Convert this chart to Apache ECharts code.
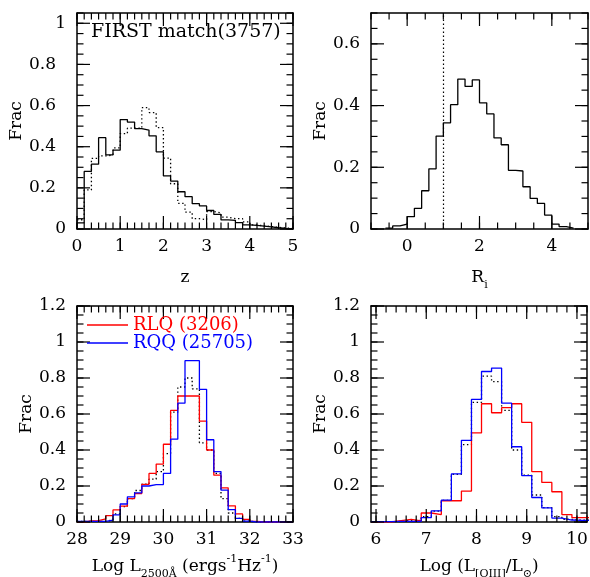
<!DOCTYPE html>
<html>
<head>
<meta charset="utf-8">
<script src="https://cdn.jsdelivr.net/npm/echarts@6/dist/echarts.min.js"></script>
<style>
html, body { margin: 0; padding: 0; background: #fff; }
#main { width: 590px; height: 577px; }
</style>
</head>
<body>
<div id="main"></div>
<script>
// redshift histogram (bins of 1/6 starting at z=0)
var zBinStart = 0, zBinWidth = 1 / 6;
var zFirst = [0.03, 0.28, 0.315, 0.444, 0.36, 0.383, 0.532, 0.52, 0.488, 0.481,
              0.453, 0.375, 0.258, 0.233, 0.181, 0.157, 0.123, 0.112, 0.09, 0.071,
              0.044, 0.042, 0.031, 0.02, 0.018, 0.014, 0.01, 0.006, 0.003, 0.002];
var zAll = [0.045, 0.19, 0.343, 0.355, 0.36, 0.394, 0.464, 0.49, 0.49, 0.59,
            0.566, 0.493, 0.345, 0.22, 0.125, 0.082, 0.05, 0.045, 0.085, 0.078,
            0.058, 0.05, 0.05, 0.035, 0.02, 0.015, 0.012, 0.008, 0.005, 0.003];

// radio loudness R_i (bins of 0.2 starting at -0.6)
var riBinStart = -0.6, riBinWidth = 0.2;
var riFrac = [0.003, 0.01, 0.016, 0.04, 0.067, 0.124, 0.195, 0.301, 0.344, 0.403,
              0.486, 0.462, 0.483, 0.409, 0.373, 0.295, 0.273, 0.19, 0.188, 0.137,
              0.099, 0.083, 0.045, 0.016, 0.008, 0.003];
var riCut = 1;

// log L2500 (bins of 1/6 starting at 28)
var lumBinStart = 28, lumBinWidth = 1 / 6;
var lumRLQ = [0, 0.006, 0.008, 0.018, 0.035, 0.067, 0.088, 0.13, 0.158, 0.209,
              0.27, 0.322, 0.432, 0.62, 0.70, 0.70, 0.70, 0.56, 0.40, 0.26,
              0.19, 0.09, 0.045, 0.015, 0.003, 0, 0, 0, 0, 0];
var lumRQQ = [0.003, 0.003, 0.003, 0.003, 0.01, 0.04, 0.1, 0.14, 0.162, 0.2,
              0.208, 0.208, 0.27, 0.46, 0.66, 0.896, 0.896, 0.737, 0.457, 0.28,
              0.177, 0.069, 0.02, 0.005, 0, 0, 0, 0, 0, 0];
var lumAll = [0.003, 0.003, 0.003, 0.003, 0.012, 0.045, 0.085, 0.13, 0.175, 0.21,
              0.238, 0.28, 0.38, 0.61, 0.75, 0.80, 0.74, 0.44, 0.40, 0.27,
              0.13, 0.05, 0.02, 0.005, 0, 0, 0, 0, 0, 0];

// log L[OIII] (bins of 0.2 starting at 5.9)
var o3BinStart = 5.9, o3BinWidth = 0.2;
var o3RLQ = [0, 0, 0.008, 0.015, 0.006, 0.05, 0.041, 0.118, 0.118, 0.172,
             0.495, 0.657, 0.607, 0.635, 0.657, 0.554, 0.28, 0.22, 0.168, 0.041,
             0.024, 0.024];
var o3RQQ = [0.002, 0.002, 0.003, 0.004, 0.004, 0.024, 0.062, 0.121, 0.267, 0.454,
             0.681, 0.836, 0.855, 0.66, 0.418, 0.258, 0.136, 0.078, 0.022, 0.011,
             0.009, 0.009];
var o3All = [0.002, 0.002, 0.003, 0.01, 0.008, 0.03, 0.06, 0.12, 0.265, 0.43,
             0.665, 0.81, 0.78, 0.62, 0.40, 0.26, 0.15, 0.08, 0.03, 0.015,
             0.01, 0.01];

// tick labels
var zTicks = [0, 1, 2, 3, 4, 5];
var riTicks = [0, 2, 4];
var lumTicks = [28, 29, 30, 31, 32, 33];
var o3Ticks = [6, 7, 8, 9, 10];
var fracTicksA = [0, 0.2, 0.4, 0.6, 0.8, 1];
var fracTicksB = [0, 0.2, 0.4, 0.6];
var fracTicksC = [0, 0.2, 0.4, 0.6, 0.8, 1, 1.2];

var FONT = 'DejaVu Serif, DejaVu Sans, serif';
var RED = '#ff0000', BLUE = '#0000ff';

function hist(start, width, values) {
    var pts = values.map(function (v, k) { return [start + k * width, v]; });
    pts.push([start + values.length * width, values[values.length - 1]]);
    return pts;
}

// every multiple of step inside range
function multiples(range, step) {
    var out = [];
    var k0 = Math.ceil(range[0] / step - 1e-6), k1 = Math.floor(range[1] / step + 1e-6);
    for (var k = k0; k <= k1; k++) out.push(+(k * step).toFixed(6));
    return out;
}

var panels = [
    { rect: [77, 13, 216, 216], x: [0, 5], y: [0, 1.05], xLabels: zTicks, xMajor: 1, xMinor: 1 / 6,
      yLabels: fracTicksA, xName: 'z', xGap: 36, padDecimals: true },
    { rect: [371, 13, 217, 216], x: [-1, 5], y: [0, 0.7], xLabels: riTicks, xMajor: 2, xMinor: 0.5,
      yLabels: fracTicksB, xName: 'R{sub|i}', xGap: 36 },
    { rect: [77, 306, 216, 216], x: [28, 33], y: [0, 1.2], xLabels: lumTicks, xMajor: 1, xMinor: 1 / 6,
      yLabels: fracTicksC, xName: 'Log L{sub|2500Å} (ergs{sup|-1}Hz{sup|-1})', xGap: 32 },
    { rect: [371, 306, 216, 216], x: [5.9, 10.2], y: [0, 1.2], xLabels: o3Ticks, xMajor: 1, xMinor: 0.2,
      yLabels: fracTicksC, xName: 'Log (L{sub|[OIII]}/L{sub|⊙})', xGap: 32 }
];

var frameLine = { color: '#000', width: 1.5 };
var labelStyle = { color: '#000', fontFamily: FONT, fontSize: 17 };
var nameRich = {
    sub: { fontFamily: FONT, fontSize: 11, color: '#000', verticalAlign: 'bottom', lineHeight: 11 },
    sup: { fontFamily: FONT, fontSize: 11, color: '#000', verticalAlign: 'top', lineHeight: 11 }
};

var grids = [], xAxes = [], yAxes = [], tickSeries = [];

panels.forEach(function (p, i) {
    grids.push({ left: p.rect[0], top: p.rect[1], width: p.rect[2], height: p.rect[3],
                 containLabel: false, outerBoundsMode: 'none' });
    var base = { type: 'value', gridIndex: i, splitLine: { show: false }, axisTick: { show: false } };
    xAxes.push(Object.assign({}, base, {
        position: 'bottom', min: p.x[0], max: p.x[1],
        axisLine: { show: true, onZero: false, lineStyle: frameLine },
        axisLabel: Object.assign({ customValues: p.xLabels, margin: 9,
            formatter: function (v) { return String(v); } }, labelStyle),
        name: p.xName, nameLocation: 'middle', nameGap: p.xGap,
        nameTextStyle: { color: '#000', fontFamily: FONT, fontSize: 17, lineHeight: 26, rich: nameRich }
    }), Object.assign({}, base, {
        position: 'top', min: p.x[0], max: p.x[1],
        axisLine: { show: true, onZero: false, lineStyle: frameLine },
        axisLabel: { show: false }
    }));
    yAxes.push(Object.assign({}, base, {
        position: 'left', min: p.y[0], max: p.y[1],
        axisLine: { show: true, onZero: false, lineStyle: frameLine },
        axisLabel: Object.assign({ customValues: p.yLabels, margin: 11,
            formatter: function (v) {
                if (p.padDecimals && Math.abs(v % 1) > 1e-6) return '{d|' + v + '}';
                return String(v);
            },
            rich: { d: { color: '#000', fontFamily: FONT, fontSize: 17, padding: [0, 10, 0, 0] } }
        }, labelStyle),
        name: 'Frac', nameLocation: 'middle', nameGap: 42,
        nameTextStyle: { color: '#000', fontFamily: FONT, fontSize: 17 }
    }), Object.assign({}, base, {
        position: 'right', min: p.y[0], max: p.y[1],
        axisLine: { show: true, onZero: false, lineStyle: frameLine },
        axisLabel: { show: false }
    }));

    // inward tick marks on all four sides, as thin rectangular symbols anchored on the frame
    var marks = [];
    function xTick(v, len) {
        marks.push({ value: [v, p.y[0]], symbolSize: [1.2, len], symbolOffset: [0, -len / 2] },
                   { value: [v, p.y[1]], symbolSize: [1.2, len], symbolOffset: [0, len / 2] });
    }
    function yTick(v, len) {
        marks.push({ value: [p.x[0], v], symbolSize: [len, 1.2], symbolOffset: [len / 2, 0] },
                   { value: [p.x[1], v], symbolSize: [len, 1.2], symbolOffset: [-len / 2, 0] });
    }
    multiples(p.x, p.xMinor).forEach(function (v) { xTick(v, 6.5); });
    multiples(p.x, p.xMajor).forEach(function (v) { xTick(v, 13); });
    multiples(p.y, 0.05).forEach(function (v) { yTick(v, 6.5); });
    multiples(p.y, 0.2).forEach(function (v) { yTick(v, 13); });
    tickSeries.push({
        type: 'scatter', name: 'ticks ' + i, xAxisIndex: 2 * i, yAxisIndex: 2 * i,
        symbol: 'rect', data: marks, silent: true, animation: false, clip: false, z: 3,
        itemStyle: { color: '#000', opacity: 1 }
    });
});

function step(name, panel, data, color, dotted) {
    return {
        name: name, type: 'line', step: 'end', xAxisIndex: 2 * panel, yAxisIndex: 2 * panel,
        data: data, showSymbol: false, symbol: 'none', silent: true, animation: false,
        itemStyle: { color: color },
        lineStyle: { color: color, width: 1.3, type: dotted ? [1.4, 2.6] : 'solid' }
    };
}

var riSeries = step('Ri', 1, hist(riBinStart, riBinWidth, riFrac), '#000', false);
riSeries.markLine = {
    silent: true, symbol: 'none', label: { show: false }, animation: false,
    lineStyle: { color: '#000', width: 1.2, type: [1.4, 2.6] },
    data: [{ xAxis: riCut }]
};

var option = {
    animation: false,
    title: {
        text: 'FIRST match(3757)', left: 91, top: 23, padding: 0,
        textStyle: { color: '#000', fontFamily: FONT, fontSize: 19, fontWeight: 'normal' }
    },
    legend: {
        data: [
            { name: 'RLQ (3206)', textStyle: { color: RED } },
            { name: 'RQQ (25705)', textStyle: { color: BLUE } }
        ],
        left: 87, top: 316, orient: 'vertical', icon: 'rect', itemWidth: 41, itemHeight: 1.5,
        itemGap: 0, padding: 0, selectedMode: false,
        textStyle: { fontFamily: FONT, fontSize: 18, lineHeight: 18 }
    },
    grid: grids,
    xAxis: xAxes,
    yAxis: yAxes,
    series: [
        step('z all', 0, hist(zBinStart, zBinWidth, zAll), '#000', true),
        step('FIRST match(3757)', 0, hist(zBinStart, zBinWidth, zFirst), '#000', false),
        riSeries,
        step('all L2500', 2, hist(lumBinStart, lumBinWidth, lumAll), '#000', true),
        step('RLQ (3206)', 2, hist(lumBinStart, lumBinWidth, lumRLQ), RED, false),
        step('RQQ (25705)', 2, hist(lumBinStart, lumBinWidth, lumRQQ), BLUE, false),
        step('all OIII', 3, hist(o3BinStart, o3BinWidth, o3All), '#000', true),
        step('RLQ OIII', 3, hist(o3BinStart, o3BinWidth, o3RLQ), RED, false),
        step('RQQ OIII', 3, hist(o3BinStart, o3BinWidth, o3RQQ), BLUE, false)
    ].concat(tickSeries)
};

var chart = echarts.init(document.getElementById('main'));
chart.setOption(option);
window.addEventListener('resize', function () { chart.resize(); });
</script>
</body>
</html>
